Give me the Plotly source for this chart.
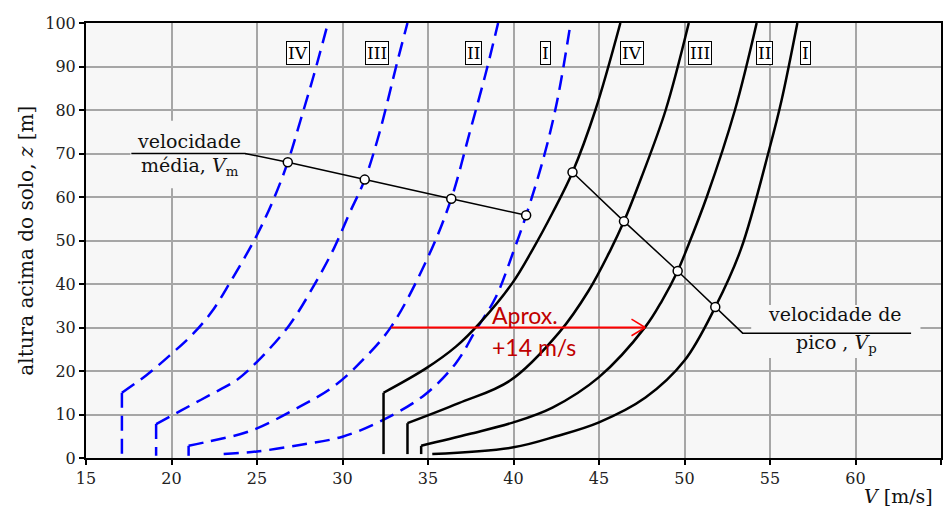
import plotly.graph_objects as go

# ---------------- data ----------------
# mean velocity profiles (blue dashed) – curved part
mean_IV_v = [17.1, 18.55, 19.9, 21.2, 22.35, 23.4, 24.95, 25.95, 26.8, 27.55, 28.3, 29.15]
mean_IV_z = [15, 19.1, 23.6, 28.3, 33.6, 40.2, 50.9, 59.3, 68, 77.7, 87.7, 100]
mean_III_v = [19.1, 20.6, 22.2, 23.8, 25.0, 26.9, 28.45, 29.5, 30.4, 31.3, 32.15, 33.2, 33.8]
mean_III_z = [7.8, 11, 14.4, 17.9, 22.1, 30.6, 40.5, 48.2, 56.2, 64, 74.6, 91, 100]
mean_II_v = [21.0, 22.05, 24.6, 27.5, 29.5, 31.3, 32.85, 34.97, 36.36, 37.45, 38.4, 39.1]
mean_II_z = [2.8, 3.7, 6.2, 11.8, 16.5, 23, 30.2, 45.9, 59.6, 75, 88.8, 100]
mean_I_v = [23.05, 25.0, 27.5, 30.0, 32.35, 34.8, 36.63, 37.8, 38.97, 40.0, 40.74, 41.78, 42.55, 43.34]
mean_I_z = [0.9, 1.5, 3.0, 4.9, 8.7, 14.5, 21.8, 29.4, 37, 47.5, 55.8, 69.3, 82, 100]

# peak velocity profiles (black solid) – curved part
peak_IV_v = [32.4, 34.88, 36.63, 38.09, 39.93, 41.1, 42.3, 43.45, 44.79, 46.25]
peak_IV_z = [15, 20.6, 25.6, 31.3, 40.2, 47.8, 56.5, 65.7, 80, 100]
peak_III_v = [33.8, 36.8, 39.8, 42.7, 44.4, 45.67, 46.46, 47.5, 48.9, 50.25]
peak_III_z = [8, 12.6, 17.8, 29, 38.5, 47.8, 54.4, 64.7, 80, 100]
peak_II_v = [34.6, 37.41, 40.0, 42.28, 45.0, 47.72, 48.69, 49.6, 50.15, 51.3, 52.95, 54.22]
peak_II_z = [2.8, 5.5, 8.2, 11.6, 18.6, 30.2, 36.2, 43, 48.2, 60, 80, 100]
peak_I_v = [35.25, 40.0, 42.5, 45.0, 47.72, 50.0, 51.8, 53.3, 55.0, 55.68, 56.6]
peak_I_z = [0.9, 2.45, 5.0, 8.2, 13.9, 22.4, 34.7, 48, 71.6, 82.3, 100]

# vertical lower legs: velocity, bottom height, top height
mean_leg_v = [17.1, 19.1, 21.0]
mean_leg_z0 = [0.5, 0.5, 0.5]
mean_leg_z1 = [15, 7.8, 2.8]
peak_leg_v = [32.4, 33.8, 34.6]
peak_leg_z0 = [0.9, 0.9, 0.9]
peak_leg_z1 = [15, 8, 2.8]

# leader lines with marked points
mean_lead_v = [17.65, 24.3, 26.8, 31.3, 36.36, 40.74]
mean_lead_z = [70, 70, 68, 64, 59.6, 55.8]
mean_mark_v = [26.8, 31.3, 36.36, 40.74]
mean_mark_z = [68, 64, 59.6, 55.8]
peak_lead_v = [43.45, 46.46, 49.6, 51.8, 53.4, 63.25]
peak_lead_z = [65.7, 54.4, 43.0, 34.7, 28.7, 28.7]
peak_mark_v = [43.45, 46.46, 49.6, 51.8]
peak_mark_z = [65.7, 54.4, 43.0, 34.7]

# terrain class labels
class_names = ["IV", "III", "II", "I"]
mean_label_v = [27.4, 32.0, 37.65, 41.9]
peak_label_v = [46.93, 50.92, 54.67, 57.08]
label_z = 93

# arrow "Aprox. +14 m/s"
arrow_v = [32.85, 47.7]
arrow_z = 30

x_ticks = [15, 20, 25, 30, 35, 40, 45, 50, 55, 60, 65]
y_ticks = [0, 10, 20, 30, 40, 50, 60, 70, 80, 90, 100]

# ---------------- figure ----------------
BLUE = "#0000ff"
BG = "#f7f7f7"
SERIF = "DejaVu Serif"

fig = go.Figure()

mean_curves = [(mean_IV_v, mean_IV_z), (mean_III_v, mean_III_z), (mean_II_v, mean_II_z), (mean_I_v, mean_I_z)]
peak_curves = [(peak_IV_v, peak_IV_z), (peak_III_v, peak_III_z), (peak_II_v, peak_II_z), (peak_I_v, peak_I_z)]

for v, z in mean_curves:
    fig.add_trace(go.Scatter(x=v, y=z, mode="lines", line=dict(color=BLUE, width=2.5, dash="15px,8px", shape="spline", smoothing=1), hoverinfo="skip"))
for v, z0, z1 in zip(mean_leg_v, mean_leg_z0, mean_leg_z1):
    fig.add_trace(go.Scatter(x=[v, v], y=[z1, z0], mode="lines", line=dict(color=BLUE, width=2.5, dash="15px,8px"), hoverinfo="skip"))

for v, z in peak_curves:
    fig.add_trace(go.Scatter(x=v, y=z, mode="lines", line=dict(color="black", width=2.5, shape="spline", smoothing=1), hoverinfo="skip"))
for v, z0, z1 in zip(peak_leg_v, peak_leg_z0, peak_leg_z1):
    fig.add_trace(go.Scatter(x=[v, v], y=[z0, z1], mode="lines", line=dict(color="black", width=2.5), hoverinfo="skip"))

for lv, lz, mv, mz in [(mean_lead_v, mean_lead_z, mean_mark_v, mean_mark_z), (peak_lead_v, peak_lead_z, peak_mark_v, peak_mark_z)]:
    fig.add_trace(go.Scatter(x=lv, y=lz, mode="lines", line=dict(color="black", width=1.5), hoverinfo="skip"))
    fig.add_trace(go.Scatter(x=mv, y=mz, mode="markers", marker=dict(size=9, color="white", line=dict(color="black", width=1.5)), hoverinfo="skip"))

shapes = []
# backgrounds behind the text labels (above grid, below traces)
shapes.append(dict(type="rect", xref="x", yref="y", x0=17.6, x1=24.3, y0=62, y1=77.5, fillcolor=BG, line=dict(width=0), layer="between"))
shapes.append(dict(type="rect", xref="x", yref="y", x0=53.9, x1=63.8, y0=23, y1=35.2, fillcolor=BG, line=dict(width=0), layer="between"))
# red arrow with open head
RED = "#ff0000"
shapes.append(dict(type="line", xref="x", yref="y", x0=arrow_v[0], x1=arrow_v[1], y0=arrow_z, y1=arrow_z, line=dict(color=RED, width=2), layer="above"))
shapes.append(dict(type="line", xref="x", yref="y", x0=arrow_v[1] - 0.8, x1=arrow_v[1], y0=arrow_z + 1.9, y1=arrow_z, line=dict(color=RED, width=1.5), layer="above"))
shapes.append(dict(type="line", xref="x", yref="y", x0=arrow_v[1] - 0.8, x1=arrow_v[1], y0=arrow_z - 1.9, y1=arrow_z, line=dict(color=RED, width=1.5), layer="above"))

annotations = []
for name, v in list(zip(class_names, mean_label_v)) + list(zip(class_names, peak_label_v)):
    annotations.append(dict(x=v, y=label_z, xref="x", yref="y", text=name, showarrow=False,
                            font=dict(family=SERIF, size=17, color="black"), bgcolor="white",
                            bordercolor="black", borderwidth=1, borderpad=1))

annotations += [
    dict(x=21.04, y=72.9, xref="x", yref="y", text="velocidade", showarrow=False, font=dict(family=SERIF, size=19, color="#111")),
    dict(x=21.07, y=66.9, xref="x", yref="y", text="média, <i>V</i><sub>m</sub>", showarrow=False, font=dict(family=SERIF, size=19, color="#111")),
    dict(x=58.8, y=33.0, xref="x", yref="y", text="velocidade de", showarrow=False, font=dict(family=SERIF, size=19, color="#111")),
    dict(x=58.9, y=26.3, xref="x", yref="y", text="pico , <i>V</i><sub>p</sub>", showarrow=False, font=dict(family=SERIF, size=19, color="#111")),
    dict(x=38.6, y=32.9, xref="x", yref="y", text="Aprox.", showarrow=False, xanchor="left", font=dict(family="Lato", size=23, color="#c00000")),
    dict(x=38.6, y=25.6, xref="x", yref="y", text="+14 m/s", showarrow=False, xanchor="left", font=dict(family="Lato", size=23, color="#c00000")),
    dict(x=(936 - 86) / 857, y=(458 - 496) / 435, xref="paper", yref="paper", text="<i>V</i> [m/s]", showarrow=False,
         xanchor="right", yanchor="middle", borderpad=0, font=dict(family=SERIF, size=19, color="#111")),
    dict(x=(25 - 86) / 857, y=0.5, xref="paper", yref="paper", text="altura acima do solo, <i>z</i> [m]", showarrow=False,
         textangle=-90, xanchor="center", yanchor="middle", font=dict(family=SERIF, size=20, color="#111")),
]

axis_common = dict(showgrid=True, gridcolor="#a6a6a6", gridwidth=1.5, showline=True, linecolor="black", linewidth=2,
                   mirror=True, ticks="outside", ticklen=5, tickwidth=1.5, tickcolor="black",
                   tickfont=dict(family=SERIF, size=16, color="#222"), zeroline=False)

fig.update_layout(
    width=951, height=507,
    margin=dict(l=86, r=8, t=23, b=49),
    paper_bgcolor="white", plot_bgcolor=BG,
    showlegend=False,
    xaxis=dict(range=[15, 65], tickvals=x_ticks, **axis_common),
    yaxis=dict(range=[0, 100], tickvals=y_ticks, **axis_common),
    shapes=shapes,
    annotations=annotations,
)

fig.write_html("out.html")
